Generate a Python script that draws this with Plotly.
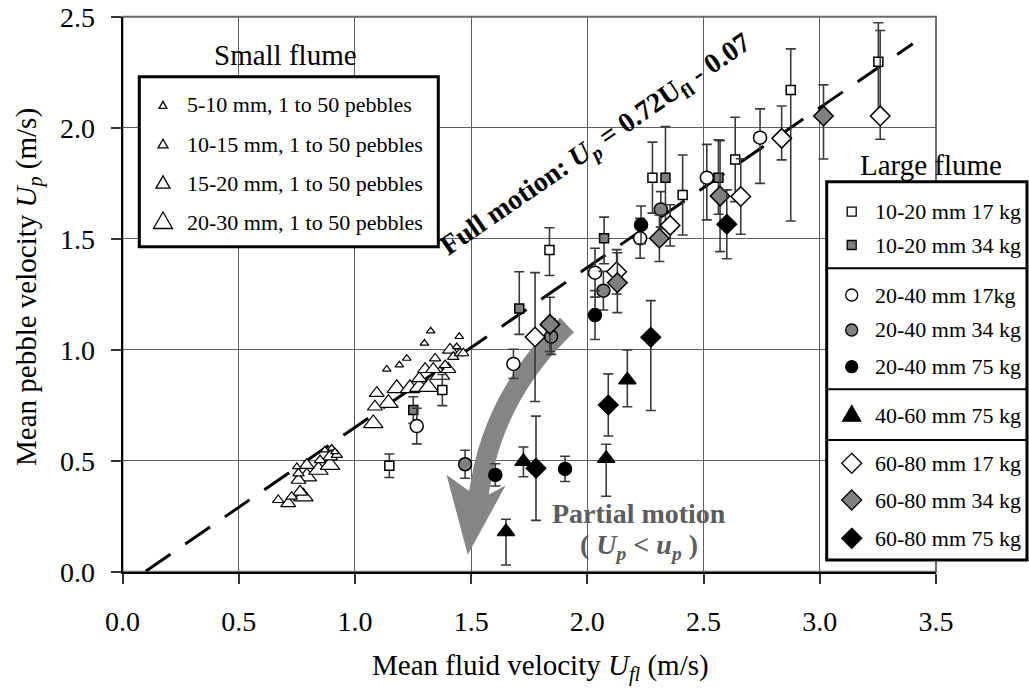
import plotly.graph_objects as go
import math

W, H = 1029, 689
# plot-area pixel box
PL, PR, PT, PB = 122.5, 936.0, 16.7, 571.7
X_RANGE = [0.0, 3.5]
Y_RANGE = [0.0, 2.5]
FONT = "Liberation Serif"

# ---------------- data ----------------
# fit line  Up = 0.72 Ufl - 0.07
fit_slope, fit_intercept = 0.72, -0.07
fit_x = [0.1, 3.4]

# small flume (triangles)
s1_x = [1.137, 1.191, 1.223, 1.299, 1.326, 1.449, 1.438, 0.871, 0.900, 0.914, 0.750]
s1_y = [0.912, 0.931, 0.961, 1.029, 1.084, 1.059, 1.013, 0.548, 0.556, 0.540, 0.473]
s2_x = [1.345, 1.423, 1.452, 1.466, 1.388, 0.670, 0.757, 0.922, 0.850, 0.728]
s2_y = [0.961, 0.968, 0.984, 0.984, 0.931, 0.323, 0.443, 0.526, 0.503, 0.338]
s3_x = [1.086, 1.094, 1.277, 1.302, 1.337, 1.409, 1.402, 0.713, 0.764, 0.793, 0.893, 0.757]
s3_y = [0.743, 0.804, 0.871, 0.912, 0.912, 0.999, 0.912, 0.308, 0.360, 0.480, 0.518, 0.413]
s4_x = [1.079, 1.144, 1.180, 1.237, 1.277, 1.316, 1.366, 0.778, 0.793, 0.843, 0.893]
s4_y = [0.668, 0.759, 0.826, 0.826, 0.831, 0.831, 0.886, 0.338, 0.428, 0.458, 0.480]

# large flume
sq17_x = [1.148, 1.376, 1.837, 2.280, 2.410, 2.636, 2.875, 3.252]
sq17_y = [0.477, 0.818, 1.449, 1.775, 1.697, 1.857, 2.170, 2.297]
sq17_ep = [0.053, 0.070, 0.100, 0.160, 0.180, 0.190, 0.185, 0.176]
sq17_em = [0.053, 0.070, 0.115, 0.160, 0.180, 0.190, 0.590, 0.250]

sq34_x = [1.251, 1.707, 2.072, 2.336, 2.564]
sq34_y = [0.728, 1.186, 1.502, 1.775, 1.775]
sq34_ep = [0.060, 0.165, 0.095, 0.230, 0.170]
sq34_em = [0.060, 0.117, 0.115, 0.230, 0.165]

ci17_x = [1.266, 1.682, 2.033, 2.227, 2.514, 2.743]
ci17_y = [0.656, 0.936, 1.347, 1.502, 1.775, 1.955]
ci17_ep = [0.080, 0.066, 0.110, 0.090, 0.150, 0.130]
ci17_em = [0.080, 0.066, 0.110, 0.090, 0.190, 0.206]

ci34_x = [1.474, 1.844, 2.069, 2.316]
ci34_y = [0.484, 1.059, 1.266, 1.632]
ci34_e = [0.063, 0.080, 0.087, 0.080]

ci75_x = [1.604, 1.904, 2.033, 2.231]
ci75_y = [0.436, 0.463, 1.156, 1.562]
ci75_e = [0.050, 0.057, 0.110, 0.085]

tr75_x = [1.650, 1.725, 2.081, 2.172]
tr75_y = [0.180, 0.496, 0.510, 0.864]
tr75_ep = [0.056, 0.066, 0.064, 0.135]
tr75_em = [0.150, 0.068, 0.170, 0.121]

di17_x = [1.775, 2.126, 2.356, 2.660, 2.836, 3.260]
di17_y = [1.057, 1.351, 1.560, 1.690, 1.952, 2.053]
di17_ep = [0.290, 0.100, 0.093, 0.170, 0.146, 0.385]
di17_em = [0.290, 0.100, 0.093, 0.170, 0.097, 0.105]

di34_x = [1.839, 2.129, 2.310, 2.571, 3.016]
di34_y = [1.114, 1.302, 1.502, 1.692, 2.053]
di34_ep = [0.122, 0.135, 0.105, 0.250, 0.140]
di34_em = [0.122, 0.135, 0.105, 0.250, 0.194]

di75_x = [1.779, 2.090, 2.273, 2.600]
di75_y = [0.466, 0.751, 1.056, 1.565]
di75_ep = [0.235, 0.140, 0.165, 0.155]
di75_em = [0.235, 0.140, 0.330, 0.155]

small_labels = ["5-10 mm, 1 to 50 pebbles", "10-15 mm, 1 to 50 pebbles",
                "15-20 mm, 1 to 50 pebbles", "20-30 mm, 1 to 50 pebbles"]
large_labels = ["10-20 mm 17 kg", "10-20 mm 34 kg", "20-40 mm 17kg", "20-40 mm 34 kg",
                "20-40 mm 75 kg", "40-60 mm 75 kg", "60-80 mm 17 kg", "60-80 mm 34 kg",
                "60-80 mm 75 kg"]

WHITE, GRAY, BLACK = "white", "#808080", "black"
ERRC = "#3a3a3a"

# ---------------- helpers ----------------
def paper(X, Y):
    return X / W, 1 - Y / H

def to_data(X, Y):
    return ((X - PL) / (PR - PL) * (X_RANGE[1] - X_RANGE[0]) + X_RANGE[0],
            (PB - Y) / (PB - PT) * (Y_RANGE[1] - Y_RANGE[0]) + Y_RANGE[0])

fig = go.Figure()

fit_y = [fit_slope * v + fit_intercept for v in fit_x]
fig.add_trace(go.Scatter(x=fit_x, y=fit_y, mode="lines",
                         line=dict(color="black", width=3, dash="30px,18px"),
                         hoverinfo="skip"))

def add_tri(x, y, size):
    fig.add_trace(go.Scatter(x=x, y=y, mode="markers",
                             marker=dict(symbol="triangle-up", size=size, color="white",
                                         line=dict(color="black", width=1.2))))

add_tri(s4_x, s4_y, 17)
add_tri(s3_x, s3_y, 13)
add_tri(s2_x, s2_y, 10)
add_tri(s1_x, s1_y, 7.5)

def add_series(x, y, ep, em, symbol, size, fill):
    fig.add_trace(go.Scatter(
        x=x, y=y, mode="markers",
        marker=dict(symbol=symbol, size=size, color=fill, line=dict(color="black", width=1.5)),
        error_y=dict(type="data", symmetric=False, array=ep, arrayminus=em,
                     color=ERRC, thickness=1.6, width=5)))

add_series(sq17_x, sq17_y, sq17_ep, sq17_em, "square", 9, WHITE)
add_series(sq34_x, sq34_y, sq34_ep, sq34_em, "square", 9, GRAY)
add_series(ci17_x, ci17_y, ci17_ep, ci17_em, "circle", 13, WHITE)
add_series(ci34_x, ci34_y, ci34_e, ci34_e, "circle", 13, GRAY)
add_series(ci75_x, ci75_y, ci75_e, ci75_e, "circle", 13, BLACK)
add_series(tr75_x, tr75_y, tr75_ep, tr75_em, "triangle-up", 15, BLACK)
add_series(di17_x, di17_y, di17_ep, di17_em, "diamond", 15, WHITE)
add_series(di34_x, di34_y, di34_ep, di34_em, "diamond", 15, GRAY)
add_series(di75_x, di75_y, di75_ep, di75_em, "diamond", 15, BLACK)

shapes = []

# ---- curved arrow (pixel geometry -> data coords) ----
P0, P1, P2 = (567.0, 325.0), (497.0, 392.0), (481.0, 481.0)
hw = 10.0
left, right = [], []
N = 16
for i in range(N + 1):
    t = i / N
    bx = (1 - t) ** 2 * P0[0] + 2 * (1 - t) * t * P1[0] + t ** 2 * P2[0]
    by = (1 - t) ** 2 * P0[1] + 2 * (1 - t) * t * P1[1] + t ** 2 * P2[1]
    dx = 2 * (1 - t) * (P1[0] - P0[0]) + 2 * t * (P2[0] - P1[0])
    dy = 2 * (1 - t) * (P1[1] - P0[1]) + 2 * t * (P2[1] - P1[1])
    L = math.hypot(dx, dy)
    nx, ny = dy / L, -dx / L
    left.append((bx - nx * hw, by - ny * hw))
    right.append((bx + nx * hw, by + ny * hw))
dx, dy = P2[0] - P1[0], P2[1] - P1[1]
L = math.hypot(dx, dy)
dx, dy = dx / L, dy / L
nx, ny = dy, -dx
lj = (P2[0] + dx * 12 - nx * hw, P2[1] + dy * 12 - ny * hw)
rj = (P2[0] + dx * 12 + nx * hw, P2[1] + dy * 12 + ny * hw)
lw = (P2[0] - nx * 35, P2[1] - ny * 35)
rw = (P2[0] + nx * 25, P2[1] + ny * 25)
tip = (P2[0] + dx * 75, P2[1] + dy * 75)
poly = left + [lj, lw, tip, rw, rj] + right[::-1]
pts = [to_data(X, Y) for X, Y in poly]
path = "M " + " L ".join(f"{a:.4f},{b:.4f}" for a, b in pts) + " Z"
shapes.append(dict(type="path", path=path, xref="x", yref="y", layer="between",
                   fillcolor="#858585", line=dict(width=0)))

# plot frame (top/right grey)
shapes.append(dict(type="rect", xref="x domain", yref="y domain", x0=0, x1=1, y0=0, y1=1,
                   line=dict(color="#6e6e6e", width=2), layer="below"))

def rect_px(x0, y0, x1, y1, lw=3, fill="white"):
    a, b = paper(x0, y0)
    c, d = paper(x1, y1)
    return dict(type="rect", xref="paper", yref="paper", x0=a, y0=d, x1=c, y1=b,
                line=dict(color="black", width=lw), fillcolor=fill, layer="above")

def line_px(x0, y0, x1, y1, lw=2):
    a, b = paper(x0, y0)
    c, d = paper(x1, y1)
    return dict(type="line", xref="paper", yref="paper", x0=a, y0=b, x1=c, y1=d,
                line=dict(color="black", width=lw), layer="above")

def poly_px(points, fill, lw=1.3):
    pp = [paper(X, Y) for X, Y in points]
    p = "M " + " L ".join(f"{a:.5f},{b:.5f}" for a, b in pp) + " Z"
    return dict(type="path", path=p, xref="paper", yref="paper", fillcolor=fill,
                line=dict(color="black", width=lw), layer="above")

def tri_px(X, Y, w, fill):
    h = 0.87 * w
    return poly_px([(X - w / 2, Y + h / 3), (X + w / 2, Y + h / 3), (X, Y - 2 * h / 3)], fill)

def dia_px(X, Y, s, fill):
    return poly_px([(X, Y - s), (X + s, Y), (X, Y + s), (X - s, Y)], fill)

def sq_px(X, Y, s, fill):
    return rect_px(X - s / 2, Y - s / 2, X + s / 2, Y + s / 2, lw=1.3, fill=fill)

def circ_px(X, Y, d, fill):
    a, b = paper(X - d / 2, Y - d / 2)
    c, e = paper(X + d / 2, Y + d / 2)
    return dict(type="circle", xref="paper", yref="paper", x0=a, y0=e, x1=c, y1=b,
                fillcolor=fill, line=dict(color="black", width=1.3), layer="above")

# small flume legend
shapes.append(rect_px(139.3, 76.7, 438.3, 246.7))
small_rows = [105, 144, 183, 222]
small_w = [8, 10, 14, 19]
for yy, ww in zip(small_rows, small_w):
    shapes.append(tri_px(163, yy + 1, ww, "white"))

# large flume legend
shapes.append(rect_px(826.7, 181.7, 1027.0, 560.0))
for ys in [268.3, 389.3, 440.0]:
    shapes.append(line_px(826.7, ys, 1027.0, ys))
large_rows = [211.7, 245.0, 295.0, 330.0, 366.7, 415.0, 463.3, 500.0, 538.3]
mx = 851.7
shapes.append(sq_px(mx, large_rows[0], 9, WHITE))
shapes.append(sq_px(mx, large_rows[1], 9, GRAY))
shapes.append(circ_px(mx, large_rows[2], 12, WHITE))
shapes.append(circ_px(mx, large_rows[3], 12, GRAY))
shapes.append(circ_px(mx, large_rows[4], 12, BLACK))
shapes.append(tri_px(mx, large_rows[5] + 1, 18, BLACK))
shapes.append(dia_px(mx, large_rows[6], 10, WHITE))
shapes.append(dia_px(mx, large_rows[7], 10, GRAY))
shapes.append(dia_px(mx, large_rows[8], 10, BLACK))

annotations = []

def text_px(X, Y, txt, size, xanchor="center", color="black", angle=0):
    a, b = paper(X, Y)
    annotations.append(dict(x=a, y=b, xref="paper", yref="paper", text=txt, showarrow=False,
                            xanchor=xanchor, yanchor="middle", textangle=angle,
                            font=dict(family=FONT, size=size, color=color)))

for yy, lab in zip(small_rows, small_labels):
    text_px(185, yy, lab, 22, xanchor="left")
for yy, lab in zip(large_rows, large_labels):
    text_px(873, yy, lab, 22, xanchor="left")

text_px(285, 55, "Small flume", 29)
text_px(931, 165, "Large flume", 29)
text_px(540, 667, "Mean fluid velocity <i>U<sub>fl</sub></i> (m/s)", 29)
text_px(28, 287, "Mean pebble velocity <i>U<sub>p</sub></i> (m/s)", 29, angle=-90)
text_px(596, 146, "<b>Full motion: <i>U<sub>p</sub></i> = 0.72U<sub>fl</sub> - 0.07</b>", 28,
        angle=-34.5)
text_px(639, 513, "<b>Partial motion</b>", 28, color="#5c5c5c")
text_px(639, 546, "<b>( <i>U<sub>p</sub></i> &lt; <i>u<sub>p</sub></i> )</b>", 28, color="#5c5c5c")

xd = [PL / W, PR / W]
yd = [1 - PB / H, 1 - PT / H]
axis_common = dict(showgrid=True, gridcolor="#5f5f5f", gridwidth=1, zeroline=False,
                   showline=True, linecolor="black", linewidth=2,
                   ticks="outside", ticklen=10, tickwidth=1.5, tickcolor="#333",
                   dtick=0.5, tickformat=".1f", automargin=False,
                   tickfont=dict(family=FONT, size=28, color="black"))

fig.update_layout(
    width=W, height=H, autosize=False,
    margin=dict(l=0, r=0, t=0, b=0, pad=0, autoexpand=False),
    paper_bgcolor="white", plot_bgcolor="white",
    showlegend=False,
    xaxis=dict(domain=xd, range=X_RANGE, tick0=0, ticklabelstandoff=14, **axis_common),
    yaxis=dict(domain=yd, range=Y_RANGE, tick0=0, ticklabelstandoff=10, **axis_common),
    shapes=shapes,
    annotations=annotations,
)

fig.write_html("out.html")
